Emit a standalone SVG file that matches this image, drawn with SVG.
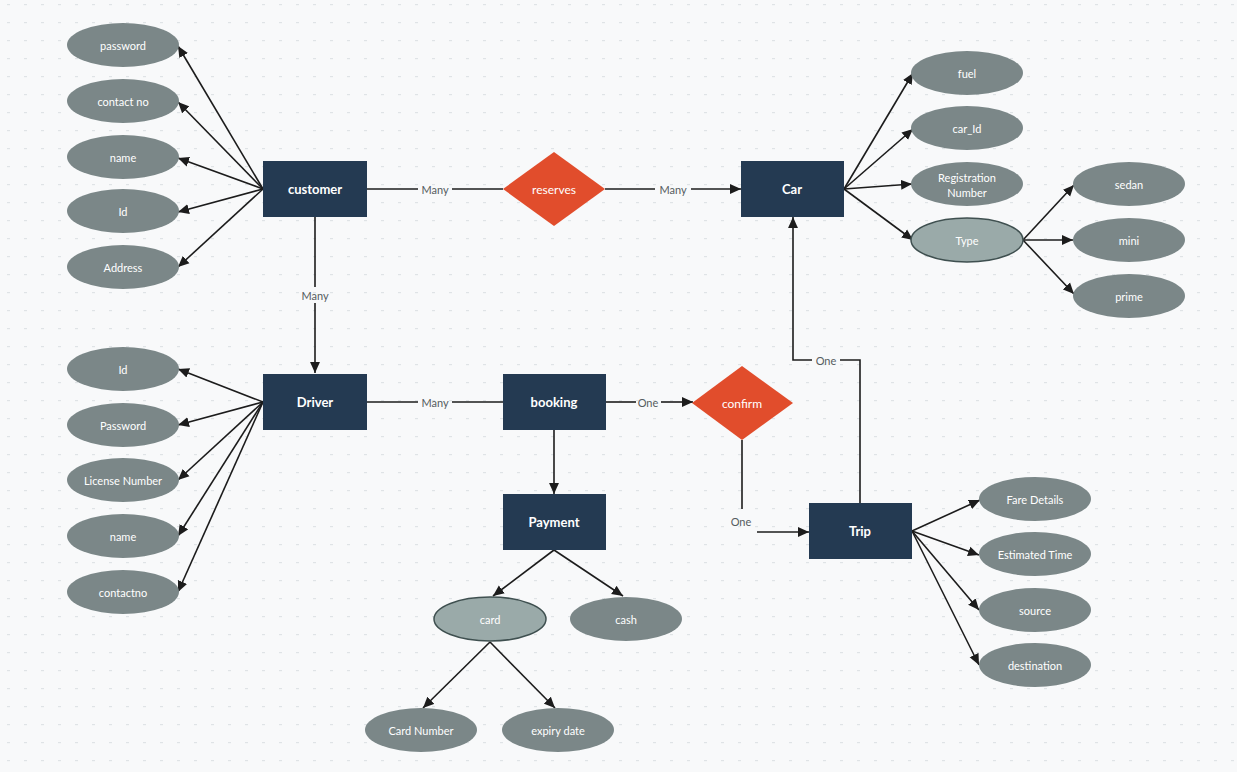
<svg xmlns="http://www.w3.org/2000/svg" width="1237" height="772" viewBox="0 0 1237 772">
<defs>
<pattern id="grid" x="0" y="0" width="17" height="18" patternUnits="userSpaceOnUse">
<rect x="7" y="4" width="3" height="1.2" fill="#dfe3e6"/>
</pattern>
<marker id="arr" viewBox="0 0 10 10" refX="10" refY="5" markerWidth="11" markerHeight="11" markerUnits="userSpaceOnUse" orient="auto">
<path d="M0,0.5 L10,5 L0,9.5 Z" fill="#1c1c1c"/>
</marker>
<style>
.attr{fill:#7b8788;}
.attr2{fill:#9aaaa9;stroke:#3f5050;stroke-width:1.5;}
.ent{fill:#243a52;}
.rel{fill:#e14d2c;}
.t{font-family:Lato,"Open Sans","Liberation Sans",sans-serif;font-size:11px;fill:#ffffff;text-anchor:middle;dominant-baseline:central;}
.te{font-family:Lato,"Open Sans","Liberation Sans",sans-serif;font-size:13px;font-weight:bold;fill:#ffffff;text-anchor:middle;dominant-baseline:central;}
.lbl{font-family:Lato,"Open Sans","Liberation Sans",sans-serif;font-size:11px;fill:#555c60;text-anchor:middle;dominant-baseline:central;}
.ln{stroke:#1c1c1c;stroke-width:1.6;fill:none;}
.la{stroke:#1c1c1c;stroke-width:1.6;fill:none;marker-end:url(#arr);}
</style>
</defs>
<rect x="0" y="0" width="1237" height="772" fill="#f8f9fa"/>
<rect x="0" y="0" width="1237" height="772" fill="url(#grid)"/>

<g id="connectors">
<!-- customer attributes -->
<line class="la" x1="263" y1="189" x2="178" y2="46"/>
<line class="la" x1="263" y1="189" x2="178" y2="102"/>
<line class="la" x1="263" y1="189" x2="178" y2="158"/>
<line class="la" x1="263" y1="189" x2="178" y2="212"/>
<line class="la" x1="263" y1="189" x2="178" y2="267"/>
<!-- customer - reserves - car -->
<line class="ln" x1="367" y1="189" x2="418" y2="189"/>
<line class="ln" x1="452" y1="189" x2="503" y2="189"/>
<line class="ln" x1="605" y1="189" x2="655" y2="189"/>
<line class="la" x1="691" y1="189" x2="741" y2="189"/>
<!-- car attributes -->
<line class="la" x1="844" y1="189" x2="913" y2="73"/>
<line class="la" x1="844" y1="189" x2="913" y2="129"/>
<line class="la" x1="844" y1="189" x2="912" y2="184"/>
<line class="la" x1="844" y1="189" x2="913" y2="240"/>
<!-- type children -->
<line class="la" x1="1023" y1="240" x2="1074" y2="185"/>
<line class="la" x1="1023" y1="240" x2="1073" y2="240"/>
<line class="la" x1="1023" y1="240" x2="1074" y2="294"/>
<!-- customer -> driver -->
<line class="ln" x1="315" y1="217" x2="315" y2="287"/>
<line class="la" x1="315" y1="303" x2="315" y2="373"/>
<!-- driver attributes -->
<line class="la" x1="263" y1="402" x2="178" y2="369"/>
<line class="la" x1="263" y1="402" x2="178" y2="425"/>
<line class="la" x1="263" y1="402" x2="178" y2="480"/>
<line class="la" x1="263" y1="402" x2="178" y2="536"/>
<line class="la" x1="263" y1="402" x2="178" y2="592"/>
<!-- driver - booking -->
<line class="ln" x1="367" y1="402" x2="418" y2="402"/>
<line class="ln" x1="452" y1="402" x2="503" y2="402"/>
<!-- booking - confirm -->
<line class="ln" x1="606" y1="402" x2="636" y2="402"/>
<line class="la" x1="661" y1="402" x2="693" y2="402"/>
<!-- booking - payment -->
<line class="la" x1="554" y1="430" x2="554" y2="494"/>
<!-- confirm - trip -->
<line class="ln" x1="742" y1="440" x2="742" y2="509"/>
<line class="la" x1="757" y1="532" x2="809" y2="532"/>
<!-- trip - car -->
<polyline class="ln" points="860,503 860,360 840,360"/>
<polyline class="la" points="812,360 793,360 793,217"/>
<!-- trip attributes -->
<line class="la" x1="912" y1="531" x2="980" y2="500"/>
<line class="la" x1="912" y1="531" x2="979" y2="555"/>
<line class="la" x1="912" y1="531" x2="979" y2="610"/>
<line class="la" x1="912" y1="531" x2="979" y2="665"/>
<!-- payment children -->
<line class="la" x1="554" y1="550" x2="493" y2="596"/>
<line class="la" x1="554" y1="550" x2="623" y2="596"/>
<!-- card children -->
<line class="la" x1="490" y1="642" x2="423" y2="708"/>
<line class="la" x1="490" y1="642" x2="555" y2="708"/>
<!-- labels -->
<text class="lbl" x="435" y="189">Many</text>
<text class="lbl" x="673" y="189">Many</text>
<text class="lbl" x="315" y="295">Many</text>
<text class="lbl" x="435" y="402">Many</text>
<text class="lbl" x="648" y="402">One</text>
<text class="lbl" x="741" y="521">One</text>
<text class="lbl" x="826" y="360">One</text>
</g>

<g id="customer"><rect class="ent" x="263" y="161" width="104" height="56"/><text class="te" x="315" y="189">customer</text></g>
<g id="reserves"><polygon class="rel" points="554,152 605,189 554,226 503,189"/><text class="t" x="554" y="189" style="font-size:12px">reserves</text></g>
<g id="car"><rect class="ent" x="741" y="161" width="103" height="56"/><text class="te" x="792" y="189">Car</text></g>
<g id="driver"><rect class="ent" x="263" y="374" width="104" height="56"/><text class="te" x="315" y="402">Driver</text></g>
<g id="booking"><rect class="ent" x="503" y="374" width="103" height="56"/><text class="te" x="554" y="402">booking</text></g>
<g id="confirm"><polygon class="rel" points="742,366 793,403 742,440 692,403"/><text class="t" x="742" y="403" style="font-size:12px">confirm</text></g>
<g id="payment"><rect class="ent" x="503" y="494" width="103" height="56"/><text class="te" x="554" y="522">Payment</text></g>
<g id="trip"><rect class="ent" x="809" y="503" width="103" height="56"/><text class="te" x="860" y="531">Trip</text></g>

<g id="c-password"><ellipse class="attr" cx="123" cy="45" rx="56" ry="22"/><text class="t" x="123" y="45">password</text></g>
<g id="c-contact"><ellipse class="attr" cx="123" cy="101" rx="56" ry="22"/><text class="t" x="123" y="101">contact no</text></g>
<g id="c-name"><ellipse class="attr" cx="123" cy="157" rx="56" ry="22"/><text class="t" x="123" y="157">name</text></g>
<g id="c-id"><ellipse class="attr" cx="123" cy="211" rx="56" ry="22"/><text class="t" x="123" y="211">Id</text></g>
<g id="c-address"><ellipse class="attr" cx="123" cy="267" rx="56" ry="22"/><text class="t" x="123" y="267">Address</text></g>

<g id="d-id"><ellipse class="attr" cx="123" cy="369" rx="56" ry="22"/><text class="t" x="123" y="369">Id</text></g>
<g id="d-password"><ellipse class="attr" cx="123" cy="425" rx="56" ry="22"/><text class="t" x="123" y="425">Password</text></g>
<g id="d-license"><ellipse class="attr" cx="123" cy="480" rx="56" ry="22"/><text class="t" x="123" y="480">License Number</text></g>
<g id="d-name"><ellipse class="attr" cx="123" cy="536" rx="56" ry="22"/><text class="t" x="123" y="536">name</text></g>
<g id="d-contact"><ellipse class="attr" cx="123" cy="592" rx="56" ry="22"/><text class="t" x="123" y="592">contactno</text></g>

<g id="car-fuel"><ellipse class="attr" cx="967" cy="73" rx="56" ry="22"/><text class="t" x="967" y="73">fuel</text></g>
<g id="car-id"><ellipse class="attr" cx="967" cy="128" rx="56" ry="22"/><text class="t" x="967" y="128">car_Id</text></g>
<g id="car-reg"><ellipse class="attr" cx="967" cy="184" rx="56" ry="22"/><text class="t" x="967" y="177">Registration</text><text class="t" x="967" y="192">Number</text></g>
<g id="car-type"><ellipse class="attr2" cx="967" cy="240" rx="56" ry="22"/><text class="t" x="967" y="240">Type</text></g>
<g id="type-sedan"><ellipse class="attr" cx="1129" cy="184" rx="56" ry="22"/><text class="t" x="1129" y="184">sedan</text></g>
<g id="type-mini"><ellipse class="attr" cx="1129" cy="240" rx="56" ry="22"/><text class="t" x="1129" y="240">mini</text></g>
<g id="type-prime"><ellipse class="attr" cx="1129" cy="296" rx="56" ry="22"/><text class="t" x="1129" y="296">prime</text></g>

<g id="trip-fare"><ellipse class="attr" cx="1035" cy="499" rx="56" ry="22"/><text class="t" x="1035" y="499">Fare Details</text></g>
<g id="trip-time"><ellipse class="attr" cx="1035" cy="554" rx="56" ry="22"/><text class="t" x="1035" y="554">Estimated Time</text></g>
<g id="trip-source"><ellipse class="attr" cx="1035" cy="610" rx="56" ry="22"/><text class="t" x="1035" y="610">source</text></g>
<g id="trip-dest"><ellipse class="attr" cx="1035" cy="665" rx="56" ry="22"/><text class="t" x="1035" y="665">destination</text></g>

<g id="pay-card"><ellipse class="attr2" cx="490" cy="619" rx="56" ry="22"/><text class="t" x="490" y="619">card</text></g>
<g id="pay-cash"><ellipse class="attr" cx="626" cy="619" rx="56" ry="22"/><text class="t" x="626" y="619">cash</text></g>
<g id="card-number"><ellipse class="attr" cx="421" cy="730" rx="56" ry="22"/><text class="t" x="421" y="730">Card Number</text></g>
<g id="card-expiry"><ellipse class="attr" cx="558" cy="730" rx="56" ry="22"/><text class="t" x="558" y="730">expiry date</text></g>
</svg>
